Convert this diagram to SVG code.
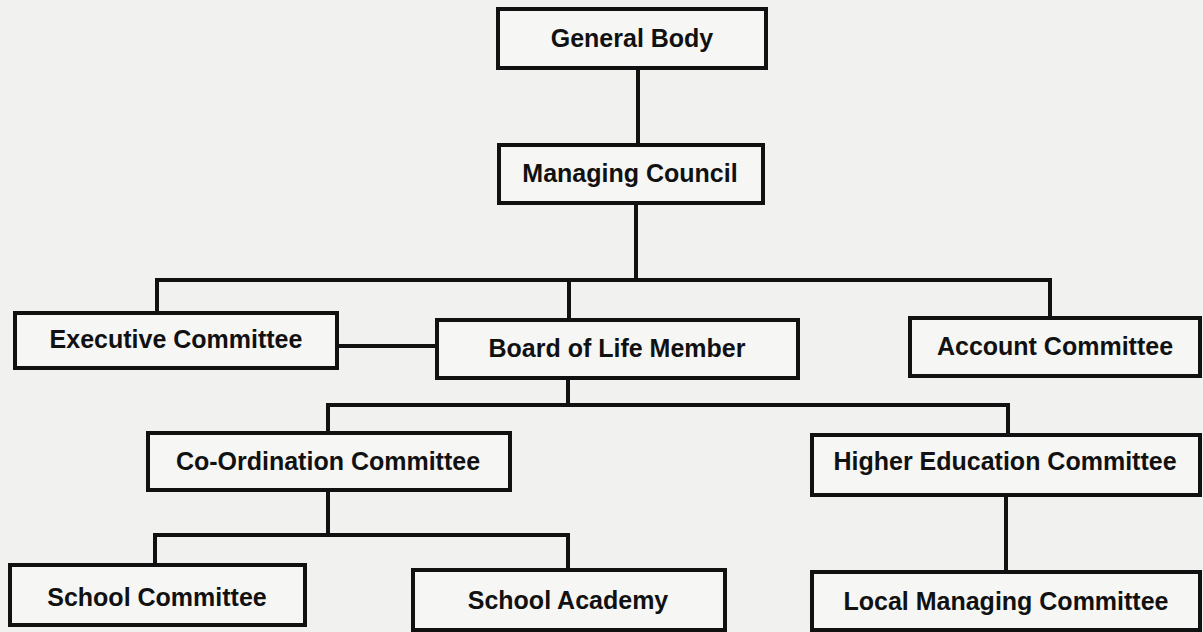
<svg xmlns="http://www.w3.org/2000/svg" width="1203" height="632" viewBox="0 0 1203 632">
<style>
.box{fill:#f6f6f4;stroke:#111;stroke-width:4}
.lbl{font-family:"Liberation Sans",Arial,sans-serif;font-weight:bold;font-size:25px;fill:#111;text-anchor:middle}
.con{stroke:#111;stroke-width:4;fill:none;stroke-linecap:square}
</style>
<rect width="1203" height="632" fill="#f1f1ef"/>
<g id="connectors">
<path class="con" d="M638,68V145"/>
<path class="con" d="M636,203V280"/>
<path class="con" d="M157,313V280H1050V318"/>
<path class="con" d="M569,280V320"/>
<path class="con" d="M337,346H437"/>
<path class="con" d="M568,378V405"/>
<path class="con" d="M328,433V405H1008V435"/>
<path class="con" d="M328,490V535"/>
<path class="con" d="M155,565V535H568V570"/>
<path class="con" d="M1006,495V572"/>
</g>
<g id="general-body"><rect class="box" x="498" y="9" width="268" height="59"/><text class="lbl" x="632" y="47">General Body</text></g>
<g id="managing-council"><rect class="box" x="499" y="145" width="264" height="58"/><text class="lbl" x="630" y="182">Managing Council</text></g>
<g id="executive-committee"><rect class="box" x="15" y="313" width="322" height="55"/><text class="lbl" x="176" y="348">Executive Committee</text></g>
<g id="board-of-life-member"><rect class="box" x="437" y="320" width="361" height="58"/><text class="lbl" x="617" y="357">Board of Life Member</text></g>
<g id="account-committee"><rect class="box" x="910" y="318" width="290" height="58"/><text class="lbl" x="1055" y="355">Account Committee</text></g>
<g id="co-ordination-committee"><rect class="box" x="148" y="433" width="362" height="57"/><text class="lbl" x="328" y="470">Co-Ordination Committee</text></g>
<g id="higher-education-committee"><rect class="box" x="812" y="435" width="388" height="60"/><text class="lbl" x="1005" y="470">Higher Education Committee</text></g>
<g id="school-committee"><rect class="box" x="10" y="565" width="295" height="60"/><text class="lbl" x="157" y="606">School Committee</text></g>
<g id="school-academy"><rect class="box" x="413" y="570" width="312" height="60"/><text class="lbl" x="568" y="609">School Academy</text></g>
<g id="local-managing-committee"><rect class="box" x="812" y="572" width="388" height="58"/><text class="lbl" x="1006" y="610">Local Managing Committee</text></g>
</svg>
